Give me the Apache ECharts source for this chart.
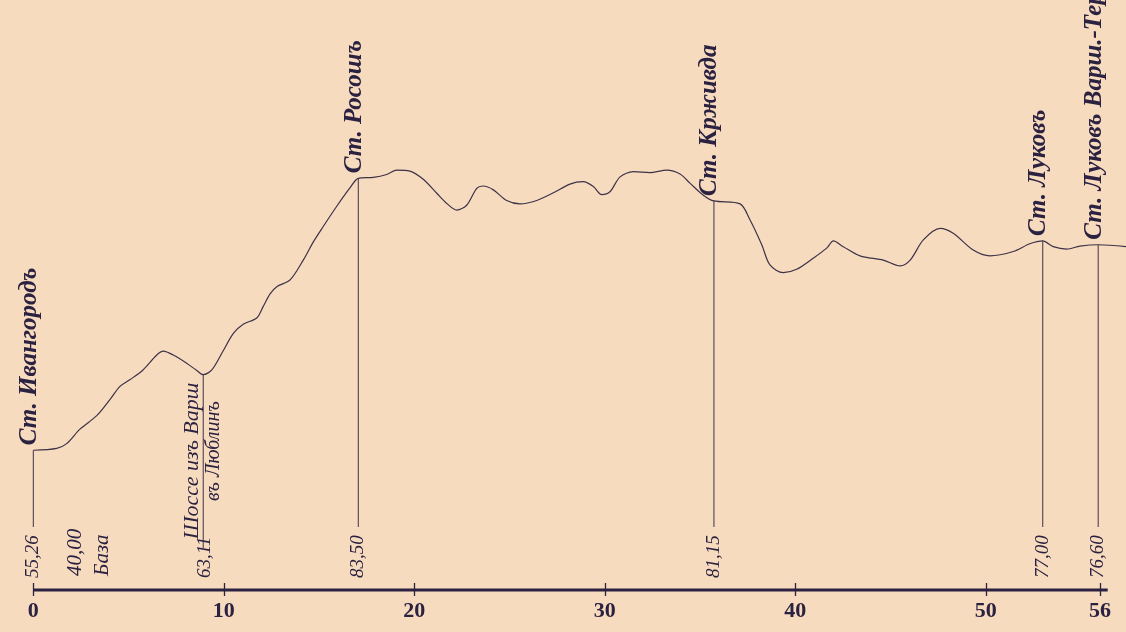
<!DOCTYPE html>
<html><head><meta charset="utf-8">
<script src="https://cdn.jsdelivr.net/npm/echarts@6/dist/echarts.min.js"></script>
<style>html,body{margin:0;padding:0;background:#f7dbbf;}#c{width:1126px;height:632px;}</style>
</head><body><div id="c"></div>
<script>
// Profile of the railway line (km, elevation)
const profileKm = [0, 1.23, 1.75, 2.45, 3.33, 4.03, 4.55, 5.08, 5.76, 6.48, 6.82, 7.35, 8.05, 8.58, 8.92, 9.37, 9.97, 10.50, 11.02, 11.73, 12.07, 12.43, 12.78, 13.48, 14.17, 14.70, 15.22, 15.93, 16.62, 17.06, 17.85, 18.55, 19.08, 19.77, 20.47, 21.18, 21.70, 22.23, 22.75, 23.28, 23.62, 24.15, 24.85, 25.55, 26.43, 27.30, 28.17, 28.87, 29.40, 29.84, 30.27, 30.80, 31.50, 32.37, 33.25, 33.95, 34.47, 35.17, 35.73, 37.10, 37.62, 38.24, 38.67, 39.37, 40.07, 40.94, 41.65, 42.00, 42.52, 43.40, 44.62, 45.50, 46.03, 46.72, 47.60, 48.29, 49.34, 50.22, 51.44, 52.31, 52.99, 53.54, 54.25, 54.94, 55.90, 57.60];
const profileElev = [55.26, 55.45, 55.95, 57.45, 58.85, 60.55, 61.90, 62.60, 63.60, 65.15, 65.55, 65.15, 64.30, 63.55, 63.11, 63.60, 65.60, 67.40, 68.35, 69.00, 70.20, 71.50, 72.25, 72.95, 75.00, 76.90, 78.50, 80.60, 82.50, 83.50, 83.60, 83.90, 84.35, 84.25, 83.40, 81.95, 80.90, 80.20, 80.70, 82.45, 82.70, 82.30, 81.20, 80.85, 81.20, 82.00, 82.90, 83.15, 82.65, 81.80, 82.10, 83.65, 84.20, 84.10, 84.35, 83.95, 83.00, 81.75, 81.15, 80.85, 79.20, 76.60, 74.50, 73.70, 74.05, 75.20, 76.25, 77.00, 76.40, 75.45, 75.00, 74.40, 75.00, 77.10, 78.30, 77.80, 76.05, 75.45, 75.90, 76.70, 77.00, 76.40, 76.15, 76.45, 76.60, 76.35];

// Stations
const stationNames = ['Ст. Ивангородъ', 'Шоссе изъ Варш', 'Ст. Росошъ', 'Ст. Крживда', 'Ст. Луковъ', 'Ст. Луковъ Варш.-Тер.'];
const stationNotes = ['', 'въ Люблинъ', '', '', '', ''];
const stationKm = [0, 8.92, 17.06, 35.73, 52.99, 55.90];
const stationElev = [55.26, 63.11, 83.50, 81.15, 77.00, 76.60];
const stationLabels = ['55,26', '63,11', '83,50', '81,15', '77,00', '76,60'];

// Datum annotation
const baseLabels = ['40,00', 'База'];
const baseKm = [2.19, 3.61];

// Axis ticks and extent of the drawn distance line
const tickValues = [0, 10, 20, 30, 40, 50, 56];
const axisLineKm = [0, 56.4];

const Y_MIN = 40.75, Y_MAX = 100.75, X_MAX = 57.36;
const INK = '#2b2140';
const LINE = '#3d3248';
const SCRIPT = '"Liberation Serif", "DejaVu Serif", serif';

function txt(x, y, text, size, align, weight) {
  return {
    type: 'text', x: x, y: y, rotation: Math.PI / 2,
    style: {
      text: text, font: 'italic ' + (weight || 'normal') + ' ' + size + 'px ' + SCRIPT, fill: INK,
      align: align, textAlign: align, verticalAlign: 'middle', textVerticalAlign: 'middle'
    }
  };
}

const chart = echarts.init(document.getElementById('c'), null, {renderer: 'canvas'});
chart.setOption({
  backgroundColor: '#f7dbbf',
  animation: false,
  grid: {left: 33.3, right: 0, top: 12.2, bottom: 42, containLabel: false},
  xAxis: [
    {type: 'value', min: 0, max: X_MAX, position: 'bottom',
      axisLine: {show: false},
      axisTick: {show: true, inside: true, length: 7, customValues: tickValues, lineStyle: {color: INK, width: 1.3}},
      axisLabel: {show: false}, splitLine: {show: false}},
    {type: 'value', min: 0, max: X_MAX, position: 'bottom',
      axisLine: {show: false},
      axisTick: {show: true, length: 6, customValues: tickValues, lineStyle: {color: INK, width: 1.3}},
      axisLabel: {show: true, customValues: tickValues, margin: 10, color: INK,
        fontFamily: '"Liberation Serif", serif', fontWeight: 'bold', fontSize: 22},
      splitLine: {show: false}}
  ],
  yAxis: {type: 'value', min: Y_MIN, max: Y_MAX, show: false},
  series: [
    {
      type: 'line', xAxisIndex: 0,
      data: axisLineKm.map(k => [k, Y_MIN]),
      symbol: 'none', showSymbol: false, clip: false, silent: true,
      lineStyle: {color: INK, width: 3}, z: 4
    },
    {
      type: 'line', xAxisIndex: 0,
      data: profileKm.map((k, i) => [k, profileElev[i]]),
      symbol: 'none', showSymbol: false, smooth: 0.3, silent: true,
      lineStyle: {color: LINE, width: 1.2}, z: 2
    },
    {
      type: 'custom', xAxisIndex: 0, silent: true, z: 3, clip: false,
      data: stationKm.map((k, i) => [k, stationElev[i], i]),
      renderItem: function (params, api) {
        const i = api.value(2);
        const top = api.coord([api.value(0), api.value(1)]);
        const base = api.coord([api.value(0), Y_MIN]);
        const x = top[0];
        const hasNote = stationNotes[i] !== '';
        const children = [];
        children.push({type: 'line',
          shape: {x1: x, y1: top[1], x2: x, y2: base[1] - (hasNote ? 42 : 63)},
          style: {stroke: LINE, lineWidth: 1}});
        children.push(txt(x + (hasNote ? 2 : 0), base[1] - 12, stationLabels[i], 19, 'left'));
        if (hasNote) {
          children.push(txt(x - 11, base[1] - 129, stationNames[i], 22, 'center'));
          children.push(txt(x + 11, base[1] - 139, stationNotes[i], 20, 'center'));
        } else {
          children.push(txt(x - 4, top[1] - 5, stationNames[i], 25, 'left', 'bold'));
        }
        return {type: 'group', children: children};
      }
    },
    {
      type: 'custom', xAxisIndex: 0, silent: true, z: 3, clip: false,
      data: baseKm.map((k, i) => [k, Y_MIN, i]),
      renderItem: function (params, api) {
        const p = api.coord([api.value(0), api.value(1)]);
        return txt(p[0], p[1] - 14, baseLabels[api.value(2)], 21, 'left');
      }
    }
  ]
});
</script>
</body></html>
